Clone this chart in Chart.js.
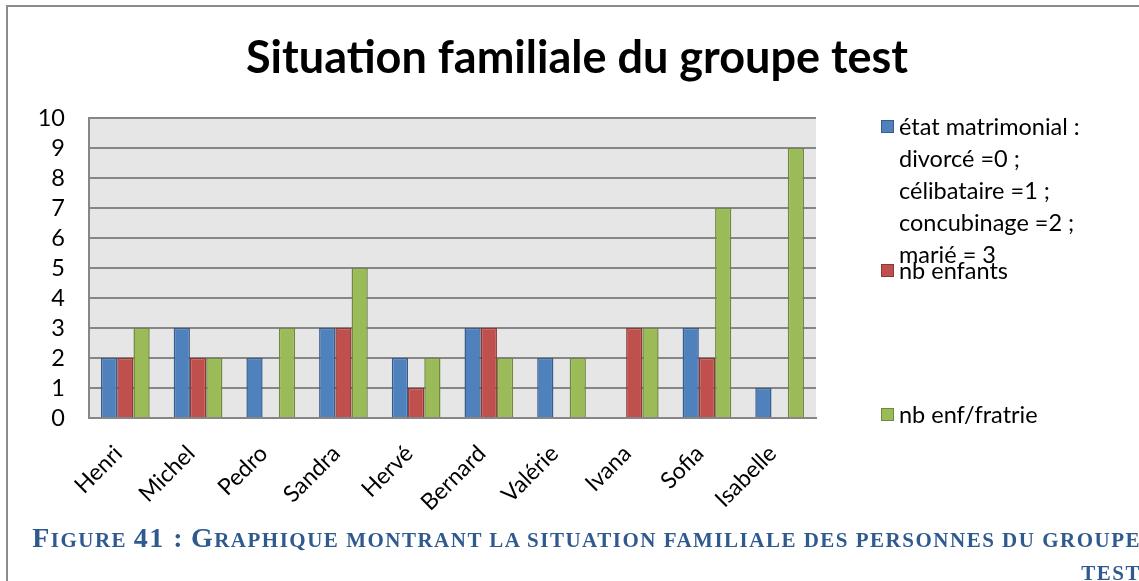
<!DOCTYPE html>
<html lang="fr">
<head>
<meta charset="utf-8">
<title>Situation familiale du groupe test</title>
<script src="https://cdn.jsdelivr.net/npm/chart.js@4/dist/chart.umd.min.js"></script>
<style>
  html, body { margin: 0; padding: 0; background: #ffffff; overflow: hidden; }
  #wrap { position: relative; width: 1139px; height: 581px; overflow: hidden; }
  #frame {
    position: absolute; left: 6px; top: 5px; width: 2000px; height: 2000px;
    border-left: 2px solid #8c8c8c; border-top: 2px solid #8c8c8c;
  }
  #chartBox { position: absolute; left: 0; top: 0; width: 1139px; height: 581px; }
  .cap {
    position: absolute; right: -2px;
    text-align: right; white-space: nowrap;
    font-family: "Liberation Serif", "DejaVu Serif", serif;
    font-weight: bold; font-size: 21px; letter-spacing: 1.5px; line-height: 32px;
    color: #2f5a8f;
  }
  .cap .b { font-size: 28px; line-height: 32px; }
  #cap1 { top: 522px; }
  #cap2 { top: 557px; }
</style>
</head>
<body>
<div id="wrap">
  <div id="frame"></div>
  <div id="chartBox"><canvas id="chart"></canvas></div>
  <div class="cap" id="cap1"><span class="b">F</span>IGURE <span class="b">41 :</span> <span class="b">G</span>RAPHIQUE MONTRANT LA SITUATION FAMILIALE DES PERSONNES DU GROUPE</div>
  <div class="cap" id="cap2">TEST</div>
</div>
<script>
// Chart content
const chartTitle = 'Situation familiale du groupe test';
const categories = ['Henri', 'Michel', 'Pedro', 'Sandra', 'Hervé', 'Bernard', 'Valérie', 'Ivana', 'Sofia', 'Isabelle'];
const etatMatrimonial = [2, 3, 2, 3, 2, 3, 2, 0, 3, 1];
const nbEnfants       = [2, 2, 0, 3, 1, 3, 0, 3, 2, 0];
const nbEnfFratrie    = [3, 2, 3, 5, 2, 2, 2, 3, 7, 9];
const legendLines = [
  ['état matrimonial :', 'divorcé =0 ;', 'célibataire =1 ;', 'concubinage =2 ;', 'marié = 3'],
  ['nb enfants'],
  ['nb enf/fratrie']
];

const FONT = 'Lato, "Open Sans", sans-serif';

// Plot background, title and the side legend
const decor = {
  id: 'decor',
  beforeDraw(chart) {
    const { ctx, chartArea: a } = chart;
    ctx.save();
    ctx.fillStyle = '#e6e6e6';
    ctx.fillRect(a.left, a.top, a.right - a.left, a.bottom - a.top);
    ctx.restore();
  },
  afterDraw(chart) {
    const { ctx } = chart;
    ctx.save();
    ctx.fillStyle = '#000';
    ctx.textAlign = 'center';
    ctx.textBaseline = 'alphabetic';
    ctx.font = 'bold 45px ' + FONT;
    ctx.fillText(chartTitle, 577, 73);

    ctx.textAlign = 'left';
    ctx.textBaseline = 'middle';
    ctx.font = '23.5px ' + FONT;
    chart.data.datasets.forEach((ds, i) => {
      const y0 = 126.5 + i * 144;
      ctx.fillStyle = ds.backgroundColor;
      ctx.fillRect(881, y0 - 6.5, 13, 13);
      ctx.strokeStyle = ds.borderColor;
      ctx.lineWidth = 1;
      ctx.strokeRect(881.5, y0 - 6, 12, 12);
      ctx.fillStyle = '#000';
      legendLines[i].forEach((line, j) => ctx.fillText(line, 899, y0 + 1 + j * 32));
    });
    ctx.restore();
  }
};

function build() {
  new Chart(document.getElementById('chart'), {
    type: 'bar',
    data: {
      labels: categories,
      datasets: [
        { label: legendLines[0].join(' '), data: etatMatrimonial, backgroundColor: '#4f81bd', borderColor: '#385d8a', borderWidth: 1.5 },
        { label: legendLines[1].join(' '), data: nbEnfants,       backgroundColor: '#c0504d', borderColor: '#8c3836', borderWidth: 1.5 },
        { label: legendLines[2].join(' '), data: nbEnfFratrie,    backgroundColor: '#9bbb59', borderColor: '#71893f', borderWidth: 1.5 }
      ]
    },
    options: {
      responsive: true,
      maintainAspectRatio: false,
      animation: false,
      layout: { padding: { top: 118, right: 323, left: 0, bottom: 0 } },
      datasets: { bar: { categoryPercentage: 0.67, barPercentage: 1 } },
      plugins: {
        legend: { display: false },
        title: { display: false },
        tooltip: { enabled: false }
      },
      scales: {
        x: {
          grid: { display: false, drawTicks: false },
          border: { display: true, color: '#868686', width: 2 },
          ticks: {
            autoSkip: false, minRotation: 45, maxRotation: 45,
            color: '#000', padding: 22, labelOffset: -7,
            font: { family: FONT, size: 23 }
          },
          afterFit(scale) { scale.height = 163; }
        },
        y: {
          min: 0, max: 10,
          grid: { color: '#868686', lineWidth: 2, drawTicks: false },
          border: { display: true, color: '#868686', width: 2 },
          ticks: {
            stepSize: 1, autoSkip: false, color: '#000', padding: 24,
            font: { family: FONT, size: 23.5 }
          },
          afterFit(scale) { scale.width = 89; }
        }
      }
    },
    plugins: [decor]
  });
}

Promise.all([
  document.fonts.load('20px Lato'),
  document.fonts.load('bold 45px Lato')
]).then(build, build);
</script>
</body>
</html>
